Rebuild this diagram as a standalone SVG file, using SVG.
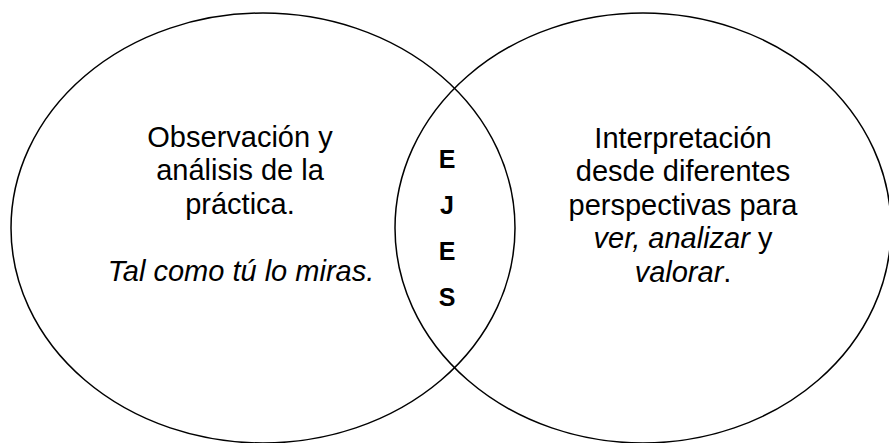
<svg xmlns="http://www.w3.org/2000/svg" width="889" height="443" viewBox="0 0 889 443">
<style>
.c{fill:none;stroke:#000;stroke-width:1.5}
.t{font-family:"Liberation Sans",Arial,sans-serif;font-size:29px;fill:#000;text-anchor:middle}
.i{font-style:italic}
.b{font-family:"Liberation Sans",Arial,sans-serif;font-size:25px;font-weight:bold;fill:#000;text-anchor:middle}
</style>
<rect width="889" height="443" fill="#fff"/>
<g id="connectors"></g>
<g id="left">
<ellipse class="c" cx="263" cy="228" rx="252" ry="215"/>
<text class="t" x="240" y="147">Observación y</text>
<text class="t" x="240" y="180">análisis de la</text>
<text class="t" x="240" y="214">práctica.</text>
<text class="t i" x="241" y="281">Tal como tú lo miras.</text>
</g>
<g id="right">
<ellipse class="c" cx="643" cy="228" rx="248" ry="215"/>
<text class="t" x="683" y="148">Interpretación</text>
<text class="t" x="683" y="181">desde diferentes</text>
<text class="t" x="683" y="215">perspectivas para</text>
<text class="t" x="683" y="248"><tspan class="i">ver, analizar</tspan> y</text>
<text class="t" x="683" y="282"><tspan class="i">valorar</tspan>.</text>
</g>
<g id="ejes">
<text class="b" x="447" y="168">E</text>
<text class="b" x="447" y="214">J</text>
<text class="b" x="447" y="260">E</text>
<text class="b" x="447" y="306">S</text>
</g>
</svg>
